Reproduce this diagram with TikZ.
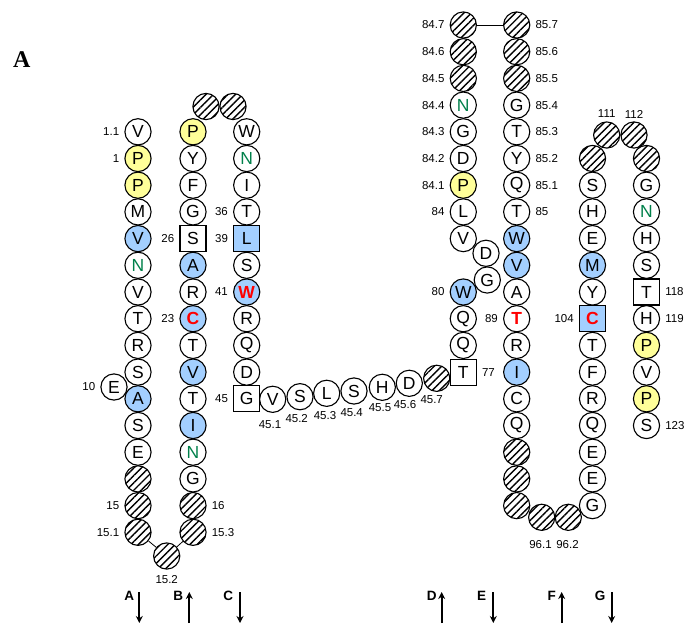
\documentclass[tikz,border=0pt]{standalone}
\usepackage{fontspec}
\setmainfont{Liberation Sans}
\newfontfamily\serifA{Liberation Serif}
\usetikzlibrary{patterns.meta,arrows.meta}
\definecolor{yelc}{HTML}{FFFF99}
\definecolor{bluc}{HTML}{A3CFFF}
\definecolor{grnc}{HTML}{00804A}
\newcommand\rfont{\fontsize{17.5}{17.5}\selectfont}
\newcommand\rfontb{\fontsize{17.5}{17.5}\selectfont\bfseries}
\newcommand\lfont{\fontsize{11.5}{11.5}\selectfont}
\newcommand\afont{\fontsize{13.5}{13.5}\selectfont\bfseries}
\newcommand\rs[5]{\node[#1] (#2) at (#3,{25+26.7*(#4)}) {#5};}
\tikzset{
 res/.style={circle,draw,line width=1.1pt,minimum size=26.2pt,inner sep=0pt,font=\rfont},
 hat/.style={res,pattern={Lines[angle=45,distance=5.2pt,line width=1.4pt]}},
 yel/.style={res,fill=yelc},
 blu/.style={res,fill=bluc},
 sqr/.style={rectangle,draw,line width=1.1pt,minimum size=26pt,inner sep=0pt,font=\rfont},
 sqb/.style={sqr,fill=bluc},
 grn/.style={res,text=grnc},
 redb/.style={font=\rfontb,text=red},
 lab/.style={font=\lfont,inner sep=0pt},
 every label/.style={lab},
 arr/.style={line width=1.7pt,-{Stealth[length=7pt,width=7pt]}},
 alab/.style={font=\afont,inner sep=0pt},
}
\begin{document}
\begin{tikzpicture}[x=1pt,y=-1pt,label distance=5pt]
\useasboundingbox (0,0) rectangle (689,624);
\node[font=\serifA\fontsize{24}{24}\selectfont\bfseries,inner sep=0pt] (title) at (21.7,60) {A};
% column A
\rs{res,label=left:1.1}{a4}{138}{4}{V}
\rs{yel,label=left:1}{a5}{138}{5}{P}
\rs{yel}{a6}{138}{6}{P}
\rs{res}{a7}{138}{7}{M}
\rs{blu}{a8}{138}{8}{V}
\rs{grn}{a9}{138}{9}{N}
\rs{res}{a10}{138}{10}{V}
\rs{res}{a11}{138}{11}{T}
\rs{res}{a12}{138}{12}{R}
\rs{res}{a13}{138}{13}{S}
\rs{blu}{a14}{138}{14}{A}
\rs{res}{a15}{138}{15}{S}
\rs{res}{a16}{138}{16}{E}
\rs{hat}{a17}{138}{17}{}
\rs{hat,label=left:15}{a18}{138}{18}{}
\rs{hat,label=left:15.1}{a19}{138}{19}{}
\node[res,label=left:10] (e10) at (114,387) {E};
\node[hat] (x152) at (166.7,556) {};
\node[lab] (l152) at (166.7,580) {15.2};
\draw[line width=0.8pt] (a19) -- (x152);
% column B
\node[hat] (t1) at (206,106.5) {};
\node[hat] (t2) at (233,106.5) {};
\rs{yel}{b4}{193}{4}{P}
\rs{res}{b5}{193}{5}{Y}
\rs{res}{b6}{193}{6}{F}
\rs{res}{b7}{193}{7}{G}
\rs{sqr,label=left:26}{b8}{193}{8}{S}
\rs{blu}{b9}{193}{9}{A}
\rs{res}{b10}{193}{10}{R}
\rs{blu,redb,label=left:23}{b11}{193}{11}{C}
\rs{res}{b12}{193}{12}{T}
\rs{blu}{b13}{193}{13}{V}
\rs{res}{b14}{193}{14}{T}
\rs{blu}{b15}{193}{15}{I}
\rs{grn}{b16}{193}{16}{N}
\rs{res}{b17}{193}{17}{G}
\rs{hat,label=right:16}{b18}{193}{18}{}
\rs{hat,label=right:15.3}{b19}{193}{19}{}
\draw[line width=0.8pt] (x152) -- (b19);
% column C
\rs{res}{c4}{246.7}{4}{W}
\rs{grn}{c5}{246.7}{5}{N}
\rs{res}{c6}{246.7}{6}{I}
\rs{res,label=left:36}{c7}{246.7}{7}{T}
\rs{sqb,label=left:39}{c8}{246.7}{8}{L}
\rs{res}{c9}{246.7}{9}{S}
\rs{blu,redb,label=left:41}{c10}{246.7}{10}{W}
\rs{res}{c11}{246.7}{11}{R}
\rs{res}{c12}{246.7}{12}{Q}
\rs{res}{c13}{246.7}{13}{D}
\rs{sqr,label=left:45}{c14}{246.7}{14}{G}
% loop 45.x
\node[res] (m1) at (272.7,399.3) {V};
\node[res] (m2) at (300,396.7) {S};
\node[res] (m3) at (326.7,393.3) {L};
\node[res] (m4) at (354,391) {S};
\node[res] (m5) at (382.3,387.3) {H};
\node[res] (m6) at (409.3,383.3) {D};
\node[hat] (m7) at (436.7,378.3) {};
\node[lab] (n1) at (270,425) {45.1};
\node[lab] (n2) at (296.7,419) {45.2};
\node[lab] (n3) at (325,416) {45.3};
\node[lab] (n4) at (351.7,412.7) {45.4};
\node[lab] (n5) at (380,408) {45.5};
\node[lab] (n6) at (405,405) {45.6};
\node[lab] (n7) at (431.7,400) {45.7};
% column D
\rs{hat,label=left:84.7}{d0}{463.3}{0}{}
\rs{hat,label=left:84.6}{d1}{463.3}{1}{}
\rs{hat,label=left:84.5}{d2}{463.3}{2}{}
\rs{grn,label=left:84.4}{d3}{463.3}{3}{N}
\rs{res,label=left:84.3}{d4}{463.3}{4}{G}
\rs{res,label=left:84.2}{d5}{463.3}{5}{D}
\rs{yel,label=left:84.1}{d6}{463.3}{6}{P}
\rs{res,label=left:84}{d7}{463.3}{7}{L}
\rs{res}{d8}{463.3}{8}{V}
\rs{blu,label=left:80}{d10}{463.3}{10}{W}
\rs{res}{d11}{463.3}{11}{Q}
\rs{res}{d12}{463.3}{12}{Q}
\rs{sqr,label=right:77}{d13}{463.3}{13}{T}
\node[res] (dd) at (486,253.3) {D};
\node[res] (dg) at (487.3,280) {G};
% column E
\rs{hat,label=right:85.7}{e0}{516.7}{0}{}
\rs{hat,label=right:85.6}{e1}{516.7}{1}{}
\rs{hat,label=right:85.5}{e2}{516.7}{2}{}
\rs{res,label=right:85.4}{e3}{516.7}{3}{G}
\rs{res,label=right:85.3}{e4}{516.7}{4}{T}
\rs{res,label=right:85.2}{e5}{516.7}{5}{Y}
\rs{res,label=right:85.1}{e6}{516.7}{6}{Q}
\rs{res,label=right:85}{e7}{516.7}{7}{T}
\rs{blu}{e8}{516.7}{8}{W}
\rs{blu}{e9}{516.7}{9}{V}
\rs{res}{e10}{516.7}{10}{A}
\rs{res,redb,label=left:89}{e11}{516.7}{11}{T}
\rs{res}{e12}{516.7}{12}{R}
\rs{blu}{e13}{516.7}{13}{I}
\rs{res}{e14}{516.7}{14}{C}
\rs{res}{e15}{516.7}{15}{Q}
\rs{hat}{e16}{516.7}{16}{}
\rs{hat}{e17}{516.7}{17}{}
\rs{hat}{e18}{516.7}{18}{}
\draw[line width=0.8pt] (d0) -- (e0);
\node[hat] (u1) at (541.7,517.3) {};
\node[hat] (u2) at (568.3,517.3) {};
\node[lab] (l961) at (540.5,545) {96.1};
\node[lab] (l962) at (567.5,545) {96.2};
% column F
\node[hat] (f111) at (606.7,135) {};
\node[hat] (f112) at (634,135) {};
\node[lab] (l111) at (606.7,114) {111};
\node[lab] (l112) at (634,114) {112};
\rs{hat}{f5}{592.5}{5}{}
\rs{res}{f6}{592.5}{6}{S}
\rs{res}{f7}{592.5}{7}{H}
\rs{res}{f8}{592.5}{8}{E}
\rs{blu}{f9}{592.5}{9}{M}
\rs{res}{f10}{592.5}{10}{Y}
\rs{sqb,redb,label=left:104}{f11}{592.5}{11}{C}
\rs{res}{f12}{592.5}{12}{T}
\rs{res}{f13}{592.5}{13}{F}
\rs{res}{f14}{592.5}{14}{R}
\rs{res}{f15}{592.5}{15}{Q}
\rs{res}{f16}{592.5}{16}{E}
\rs{res}{f17}{592.5}{17}{E}
\rs{res}{f18}{592.5}{18}{G}
% column G
\rs{hat}{g5}{646.5}{5}{}
\rs{res}{g6}{646.5}{6}{G}
\rs{grn}{g7}{646.5}{7}{N}
\rs{res}{g8}{646.5}{8}{H}
\rs{res}{g9}{646.5}{9}{S}
\rs{sqr,label=right:118}{g10}{646.5}{10}{T}
\rs{res,label=right:119}{g11}{646.5}{11}{H}
\rs{yel}{g12}{646.5}{12}{P}
\rs{res}{g13}{646.5}{13}{V}
\rs{yel}{g14}{646.5}{14}{P}
\rs{res,label=right:123}{g15}{646.5}{15}{S}
% arrows
\coordinate (pa1) at (139.3,592); \coordinate (pa2) at (139.3,623);
\coordinate (pb1) at (189.3,592); \coordinate (pb2) at (189.3,623);
\coordinate (pc1) at (240,592); \coordinate (pc2) at (240,623);
\coordinate (pd1) at (441.7,592); \coordinate (pd2) at (441.7,623);
\coordinate (pe1) at (493.3,592); \coordinate (pe2) at (493.3,623);
\coordinate (pf1) at (561.7,592); \coordinate (pf2) at (561.7,623);
\coordinate (pg1) at (611.7,592); \coordinate (pg2) at (611.7,623);
\draw[arr] (pa1) -- (pa2);
\draw[arr] (pb2) -- (pb1);
\draw[arr] (pc1) -- (pc2);
\draw[arr] (pd2) -- (pd1);
\draw[arr] (pe1) -- (pe2);
\draw[arr] (pf2) -- (pf1);
\draw[arr] (pg1) -- (pg2);
\node[alab] (la) at (129.3,596) {A};
\node[alab] (lb) at (178.3,596) {B};
\node[alab] (lc) at (228.3,596) {C};
\node[alab] (ld) at (431.7,596) {D};
\node[alab] (le) at (481.7,596) {E};
\node[alab] (lf) at (551.7,596) {F};
\node[alab] (lg) at (600,596) {G};
\end{tikzpicture}
\end{document}
